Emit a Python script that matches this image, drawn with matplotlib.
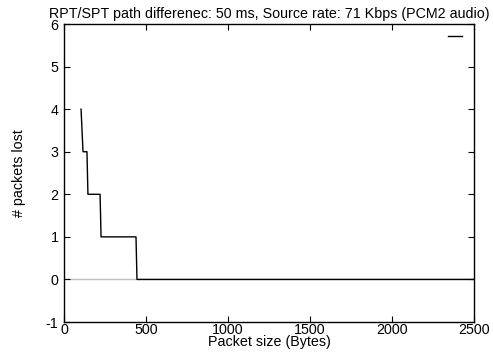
import matplotlib
matplotlib.use('Agg')
import matplotlib.pyplot as plt

plt.rcParams['font.family'] = ['Liberation Sans', 'DejaVu Sans']
plt.rcParams['axes.unicode_minus'] = False

# packet size (bytes) vs packets lost
packet_size = [104, 116, 140, 146, 220, 226, 439, 445, 2500]
packets_lost = [4, 3, 3, 2, 2, 1, 1, 0, 0]

fig = plt.figure(figsize=(4.93, 3.52), dpi=100)
ax = fig.add_axes([0.1298, 0.0852, 0.8317, 0.8466])

ax.axhline(0, color='#c0c0c0', lw=1, zorder=1)
ax.plot(packet_size, packets_lost, color='black', lw=1, label=' ', zorder=2)

ax.set_xlim(0, 2500)
ax.set_ylim(-1, 6)
ax.set_xticks([0, 500, 1000, 1500, 2000, 2500])
ax.set_yticks([-1, 0, 1, 2, 3, 4, 5, 6])
ax.tick_params(direction='in', top=True, right=True, length=4, width=0.8,
               labelsize=10.3, colors='black')
ax.tick_params(axis='x', pad=1)
ax.tick_params(axis='y', pad=4)
for s in ax.spines.values():
    s.set_linewidth(1)

ax.set_xlabel('Packet size (Bytes)', fontsize=10.3, labelpad=-2)
ax.set_ylabel('# packets lost', fontsize=10.3, labelpad=14)
ax.set_title('RPT/SPT path differenec: 50 ms, Source rate: 71 Kbps (PCM2 audio)',
             fontsize=10.3, pad=4)

ax.legend(loc='upper right', bbox_to_anchor=(0.995, 0.998), frameon=False,
          handlelength=1.0, handletextpad=0, borderaxespad=0, fontsize=10.3)

fig.savefig('out.png', dpi=100)
